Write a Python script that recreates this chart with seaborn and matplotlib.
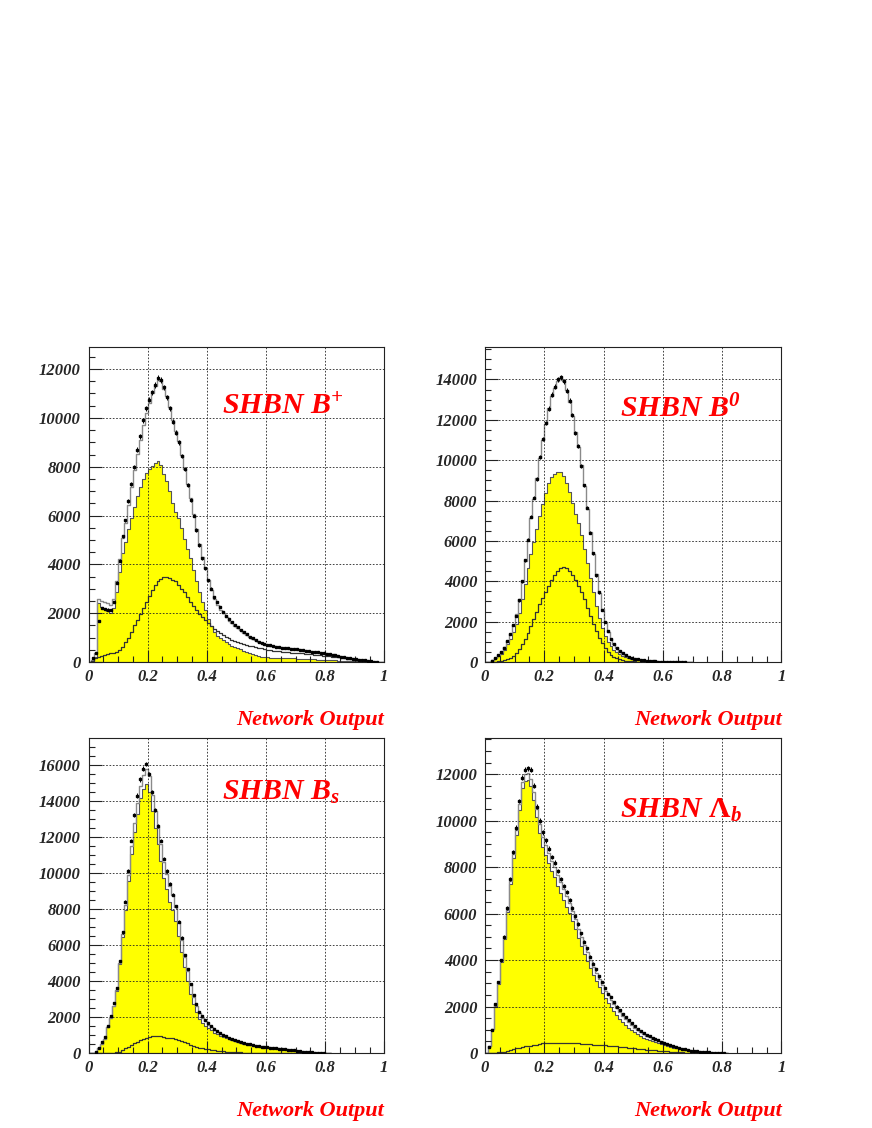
import numpy as np
import pandas as pd
import matplotlib
matplotlib.use("Agg")
import matplotlib.pyplot as plt
import seaborn as sns

# ---- data (events per 0.01 bin, bins start at 0) ----
sig_bp = [0, 50, 200, 2400, 2240, 2160, 2080, 2000, 2220, 2880, 3700, 4480, 4900, 5450, 5900, 6350,
          6800, 7150, 7500, 7750, 7900, 8050, 8150, 8250, 8080, 7720, 7410, 7010, 6520, 6150,
          5900, 5490, 5050, 4650, 4250, 3770, 3330, 2870, 2450, 2130, 1760, 1470, 1230, 1080, 970,
          900, 820, 730, 670, 620, 560, 520, 460, 410, 350, 320, 290, 260, 225, 210,
          195, 185, 180, 175, 170, 170, 165, 160, 155, 150, 143, 138, 133, 128, 120,
          112, 105, 103, 95, 89, 83, 77, 68, 63, 55, 48, 43, 40, 35, 30,
          25, 20, 17, 15, 10, 5, 3, 1, 0, 0]
bkg_bp = [0, 50, 150, 200, 260, 290, 320, 350, 380, 420, 500, 620, 800, 1000, 1250, 1500,
          1720, 1950, 2200, 2450, 2700, 2950, 3150, 3300, 3420, 3480, 3470, 3440, 3380, 3300,
          3150, 3000, 2850, 2650, 2450, 2280, 2120, 1980, 1850, 1720, 1600, 1480, 1370, 1270, 1180,
          1100, 1030, 970, 910, 860, 820, 780, 740, 700, 670, 640, 610, 580, 555, 530,
          505, 485, 465, 450, 435, 420, 410, 400, 390, 380, 372, 362, 352, 342, 330,
          318, 305, 292, 280, 266, 252, 238, 222, 207, 190, 172, 157, 140, 125, 110,
          95, 80, 68, 55, 40, 25, 12, 4, 0, 0]
data_bp = [0, 150, 380, 1700, 2200, 2180, 2150, 2130, 2450, 3250, 4150, 5150, 5800, 6600, 7300, 8000,
           8700, 9250, 9900, 10400, 10750, 11050, 11350, 11650, 11550, 11250, 10850, 10400, 9850, 9400,
           9000, 8450, 7900, 7250, 6650, 6000, 5400, 4800, 4250, 3850, 3350, 3000, 2650, 2450, 2250,
           2050, 1900, 1750, 1650, 1520, 1420, 1320, 1230, 1130, 1040, 970, 900, 840, 790, 750,
           710, 680, 650, 630, 610, 590, 570, 555, 540, 530, 515, 500, 485, 470, 450,
           430, 415, 400, 380, 360, 340, 320, 300, 275, 250, 225, 205, 185, 160, 140,
           120, 100, 85, 65, 45, 30, 15, 5, 0, 0]

sig_b0 = [0, 0, 80, 190, 300, 420, 620, 880, 1150, 1500, 1900, 2450, 3100, 3850, 4650, 5350,
          5950, 6600, 7250, 7850, 8350, 8850, 9150, 9300, 9420, 9400, 9200, 8850, 8400, 7900,
          7350, 6900, 6300, 5600, 4900, 4150, 3450, 2800, 2200, 1700, 1300, 1000, 780, 620, 500,
          400, 320, 260, 210, 170, 135, 110, 90, 72, 58, 46, 36, 28, 22, 17,
          13, 10, 8, 6, 4, 3, 2, 1, 0, 0]
bkg_b0 = [0, 0, 0, 10, 30, 60, 100, 150, 220, 320, 460, 650, 880, 1150, 1450, 1800,
          2150, 2500, 2850, 3150, 3450, 3750, 4050, 4300, 4500, 4650, 4720, 4650, 4500, 4300,
          4050, 3750, 3450, 3100, 2700, 2300, 1900, 1550, 1200, 920, 690, 500, 360, 260, 185,
          130, 95, 70, 50, 38, 28, 20, 15, 11, 8, 6, 4, 3, 2, 1,
          0, 0, 0, 0, 0, 0, 0, 0, 0, 0]
data_b0 = [0, 0, 60, 190, 350, 500, 700, 1050, 1400, 1850, 2300, 3050, 4000, 5050, 6050, 7200,
           8150, 9050, 10150, 11050, 11850, 12550, 13250, 13650, 14000, 14100, 13900, 13450, 12950, 12250,
           11350, 10700, 9700, 8750, 7650, 6400, 5400, 4300, 3450, 2600, 2000, 1520, 1150, 900, 700,
           540, 430, 330, 270, 210, 170, 130, 105, 85, 65, 50, 40, 30, 25, 18,
           13, 10, 8, 6, 4, 3, 2, 1, 0, 0]

sig_bs = [0, 0, 0, 250, 500, 800, 1450, 1950, 2590, 3470, 4920, 6440, 7940, 9550, 11050, 12260,
          13280, 14150, 14670, 14960, 14510, 13420, 12505, 11610, 10680, 9710, 9090, 8410, 7935, 7310,
          6510, 5630, 4750, 4020, 3290, 2700, 2250, 1900, 1690, 1525, 1385, 1250, 1135, 1035, 955,
          880, 814, 756, 706, 655, 603, 560, 521, 486, 455, 423, 396, 368, 345, 326,
          307, 288, 269, 255, 240, 222, 200, 180, 160, 140, 120, 100, 80, 62, 45,
          30, 18, 8, 3, 1, 0, 0]
bkg_bs = [0, 0, 0, 0, 0, 0, 0, 0, 10, 30, 80, 160, 260, 350, 450, 540,
          620, 700, 780, 840, 890, 930, 945, 940, 920, 890, 860, 840, 815, 790,
          740, 670, 600, 530, 460, 400, 350, 300, 260, 225, 195, 170, 145, 125, 105,
          90, 76, 64, 54, 45, 37, 30, 24, 19, 15, 12, 9, 7, 5, 4,
          3, 2, 1, 0, 0, 0, 0, 0, 0, 0, 0, 0, 0, 0, 0,
          0, 0, 0, 0, 0, 0, 0]
data_bs = [0, 0, 50, 300, 600, 900, 1500, 2050, 2750, 3600, 5100, 6700, 8400, 10100, 11800, 13200,
           14300, 15200, 15800, 16050, 15500, 14500, 13500, 12600, 11800, 10800, 10100, 9400, 8800, 8150,
           7300, 6400, 5450, 4650, 3850, 3200, 2700, 2300, 2050, 1850, 1650, 1480, 1340, 1220, 1100,
           1000, 920, 850, 780, 720, 660, 610, 560, 520, 480, 445, 410, 380, 355, 335,
           315, 295, 275, 258, 240, 220, 200, 180, 160, 140, 118, 98, 78, 60, 44,
           30, 18, 8, 3, 1, 0, 0]

sig_lb = [0, 300, 1050, 2040, 2975, 3910, 4890, 6060, 7280, 8390, 9400, 10470, 11395, 11720, 11750, 11480,
          10910, 10140, 9465, 8890, 8525, 8168, 7842, 7558, 7205, 6904, 6604, 6306, 6010, 5668,
          5330, 4940, 4600, 4260, 3970, 3648, 3356, 3094, 2852, 2590, 2350, 2162, 1994, 1806, 1638,
          1480, 1332, 1205, 1088, 982, 886, 800, 724, 658, 597, 545, 498, 455, 412, 373,
          334, 299, 264, 233, 207, 180, 157, 133, 113, 92, 75, 62, 49, 40, 30,
          22, 15, 10, 6, 3, 1, 0]
bkg_lb = [0, 0, 0, 10, 25, 40, 60, 90, 120, 160, 200, 230, 255, 280, 300, 320,
          340, 360, 385, 410, 425, 432, 438, 442, 445, 446, 446, 444, 440, 432,
          420, 410, 400, 390, 380, 372, 364, 356, 348, 340, 330, 318, 306, 294, 282,
          270, 258, 245, 232, 218, 204, 190, 176, 162, 148, 135, 122, 110, 98, 87,
          76, 66, 56, 47, 38, 30, 23, 17, 12, 8, 5, 3, 1, 0, 0,
          0, 0, 0, 0, 0, 0, 0]
data_lb = [0, 250, 1000, 2100, 3050, 4000, 5000, 6250, 7500, 8650, 9700, 10850, 11850, 12200, 12250, 12200,
           11500, 10600, 10000, 9500, 9150, 8800, 8450, 8200, 7850, 7500, 7200, 6950, 6600, 6250,
           5900, 5550, 5150, 4800, 4500, 4150, 3850, 3600, 3300, 3050, 2800, 2550, 2400, 2200, 2000,
           1850, 1680, 1530, 1400, 1270, 1150, 1050, 960, 870, 790, 720, 650, 590, 540, 480,
           430, 380, 335, 290, 250, 215, 185, 155, 130, 105, 85, 65, 52, 40, 30,
           22, 15, 10, 6, 3, 1, 0]

titles = ["SHBN B$^{+}$", "SHBN B$^{0}$", "SHBN B$_{s}$", "SHBN $\\mathsf{\\Lambda}_{b}$"]
ytops = [12000, 14000, 16000, 12000]
xtick_vals = [0, 0.2, 0.4, 0.6, 0.8, 1.0]
xtick_labels = ["0", "0.2", "0.4", "0.6", "0.8", "1"]

sns.set_style("white")
plt.rcParams["font.family"] = ["Liberation Serif", "DejaVu Serif"]
plt.rcParams["mathtext.fontset"] = "custom"
plt.rcParams["mathtext.rm"] = "Liberation Serif:bold:italic"
plt.rcParams["mathtext.it"] = "Liberation Serif:bold:italic"
plt.rcParams["mathtext.bf"] = "Liberation Serif:bold:italic"
plt.rcParams["mathtext.sf"] = "Liberation Serif:bold"

fig = plt.figure(figsize=(8.72, 11.28), dpi=100)
fig.patch.set_facecolor("white")

panels = [
    (sig_bp, bkg_bp, data_bp, [0.1015, 0.4131, 0.3392, 0.2795], 12915, (0.45, 0.787)),
    (sig_b0, bkg_b0, data_b0, [0.5562, 0.4131, 0.3400, 0.2795], 15620, (0.455, 0.776)),
    (sig_bs, bkg_bs, data_bs, [0.1015, 0.0665, 0.3392, 0.2790], 17480, (0.45, 0.806)),
    (sig_lb, bkg_lb, data_lb, [0.5562, 0.0665, 0.3400, 0.2790], 13550, (0.455, 0.746)),
]


def hist(ax, vals, **kw):
    vals = np.asarray(vals, dtype=float)
    nb = len(vals)
    df = pd.DataFrame({"x": (np.arange(nb) + 0.5) / 100.0, "w": vals})
    sns.histplot(data=df, x="x", weights="w", binwidth=0.01, binrange=(0, nb / 100.0),
                 element="step", ax=ax, **kw)


for i, (sig, bkg, dat, pos, ymax, tpos) in enumerate(panels):
    ax = fig.add_axes(pos)
    n = min(len(sig), len(bkg))
    tot = np.asarray(sig[:n], float) + np.asarray(bkg[:n], float)

    hist(ax, sig, fill=True, color="yellow", alpha=1, edgecolor="#555555", linewidth=0.8)
    hist(ax, tot, fill=False, color="#8a8a8a", linewidth=1.0)
    hist(ax, bkg, fill=False, color="#333333", linewidth=0.9)

    d = np.asarray(dat, float)
    xc = (np.arange(len(d)) + 0.5) / 100.0
    m = d > 0
    ax.errorbar(xc[m], d[m], yerr=np.sqrt(d[m]), fmt="s", ms=1.8, color="black",
                elinewidth=0.7, capsize=0, zorder=5)

    ax.set_xlim(0, 1)
    ax.set_ylim(0, ymax)
    ax.set_xlabel("")
    ax.set_ylabel("")

    yt = list(range(0, ytops[i] + 1, 2000))
    ax.set_yticks(yt)
    ax.set_yticklabels([str(v) for v in yt], fontsize=12, fontweight="bold", fontstyle="italic")
    ax.set_yticks(np.arange(0, ymax, 500), minor=True)
    ax.set_xticks(xtick_vals)
    ax.set_xticklabels(xtick_labels, fontsize=12, fontweight="bold", fontstyle="italic")
    ax.set_xticks(np.arange(0, 1.0001, 0.05), minor=True)
    ax.tick_params(which="both", bottom=True, left=True, top=False, right=False)
    ax.tick_params(which="major", direction="in", length=9, width=0.8, color="#222222", pad=5)
    ax.tick_params(which="minor", direction="in", length=4.5, width=0.8, color="#222222")
    ax.tick_params(axis="y", which="major", pad=5.5)

    ax.set_axisbelow(False)
    ax.grid(True, which="major", linestyle=(0, (2, 2)), color="#222222", linewidth=0.6)
    ax.grid(False, which="minor")
    for s in ax.spines.values():
        s.set_visible(True)
        s.set_color("#222222")
        s.set_linewidth(0.8)

    ax.text(tpos[0], tpos[1], titles[i], transform=ax.transAxes, color="red",
            fontsize=21.5, fontweight="bold", fontstyle="italic", ha="left", va="baseline")
    ax.text(1.0, -0.2, "Network Output", transform=ax.transAxes, color="red",
            fontsize=16, fontweight="bold", fontstyle="italic", ha="right", va="baseline")

fig.savefig("out.png", dpi=100, facecolor="white")
